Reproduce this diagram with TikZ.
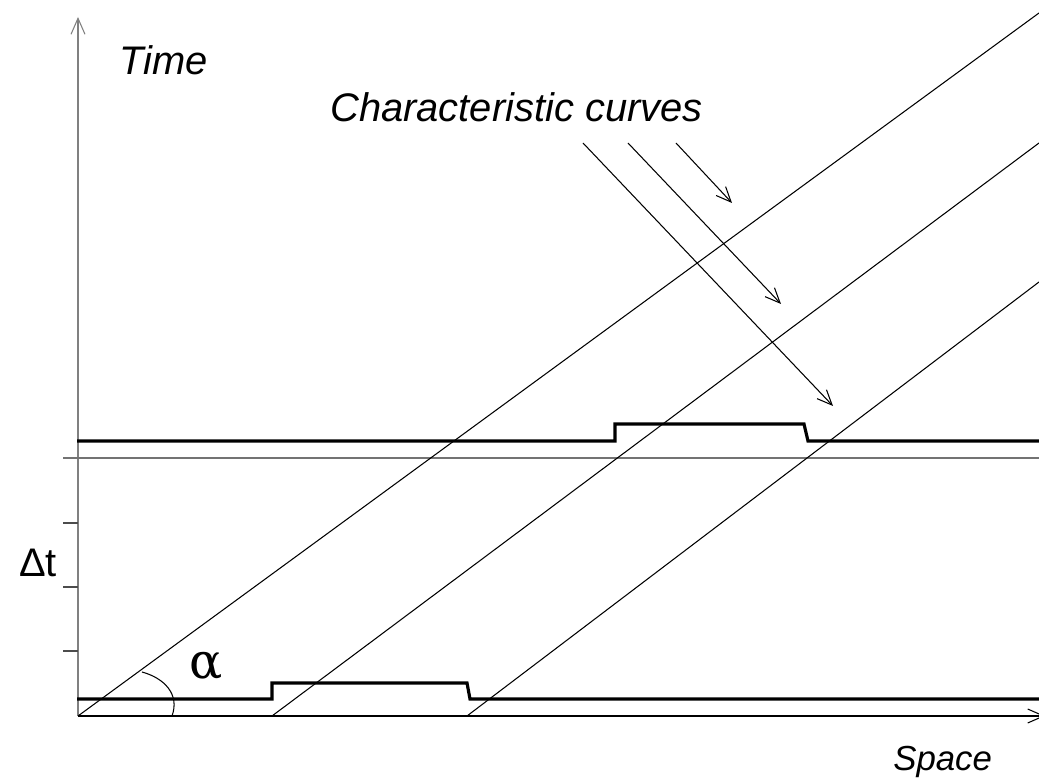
\documentclass[tikz,border=0pt]{standalone}
\usepackage{fontspec}
\setmainfont{Liberation Sans}
\newfontfamily\symgreek{DejaVu Serif}
\usetikzlibrary{arrows.meta}
\begin{document}
\begin{tikzpicture}[x=0.02cm,y=-0.02cm,
  thin line/.style={line width=0.6pt,black},
  thick line/.style={line width=1.8pt,black,line join=miter},
  axis/.style={line width=0.9pt,black!50},
  grayline/.style={line width=0.7pt,black!55},
  tick/.style={line width=0.7pt,black!70},
  barb/.style={-{Straight Barb[length=0.3cm,width=0.26cm,line width=0.6pt]}},
  lbl/.style={font=\fontsize{22.7pt}{27pt}\selectfont\itshape,inner sep=0pt},
  sym/.style={font=\fontsize{22.7pt}{27pt}\selectfont,inner sep=0pt}]
\useasboundingbox (0,0) rectangle (1039,783);
\clip (0,0) rectangle (1039,783);
% coordinates
\coordinate (O) at (78,716);
\coordinate (Ytop) at (78,17);
\coordinate (Xend) at (1045,716);
% axes
\draw[axis,-{Straight Barb[length=0.32cm,width=0.28cm,line width=0.6pt]}] (O) -- (Ytop);
\draw[thin line,-{Straight Barb[length=0.32cm,width=0.28cm,line width=0.6pt]}] (O) -- (Xend);
% ticks
\coordinate (t1) at (63,523); \coordinate (t1e) at (78,523);
\coordinate (t2) at (63,587); \coordinate (t2e) at (78,587);
\coordinate (t3) at (63,651); \coordinate (t3e) at (78,651);
\draw[tick] (t1) -- (t1e);
\draw[tick] (t2) -- (t2e);
\draw[tick] (t3) -- (t3e);
% thin gray horizontal
\coordinate (g1) at (63,458); \coordinate (g2) at (1039,458);
\draw[grayline] (g1) -- (g2);
% pulse lines
\coordinate (p1) at (77,699);
\coordinate (p2) at (1039,699);
\draw[thick line] (p1) -- (272,699) -- (272,683) -- (467,683) -- (470,699) -- (p2);
\coordinate (q1) at (77,441);
\coordinate (q2) at (1039,441);
\draw[thick line] (q1) -- (615,441) -- (615,424) -- (804,424) -- (808,441) -- (q2);
% characteristic lines
\coordinate (c1a) at (78,716); \coordinate (c1b) at (1039,13);
\coordinate (c2a) at (272,716); \coordinate (c2b) at (1039,143);
\coordinate (c3a) at (467,716); \coordinate (c3b) at (1039,282);
\draw[thin line] (c1a) -- (c1b);
\draw[thin line] (c2a) -- (c2b);
\draw[thin line] (c3a) -- (c3b);
% arrows
\coordinate (a1s) at (676,143); \coordinate (a1e) at (732,203);
\coordinate (a2s) at (628,143); \coordinate (a2e) at (781,304);
\coordinate (a3s) at (583,143); \coordinate (a3e) at (833,406);
\draw[thin line,barb] (a1s) -- (a1e);
\draw[thin line,barb] (a2s) -- (a2e);
\draw[thin line,barb] (a3s) -- (a3e);
% angle arc
\coordinate (arcS) at (142,672);
\coordinate (arcE) at (172,716);
\draw[thin line] (arcS) .. controls (164,678) and (180,694) .. (arcE);
% labels
\node[lbl,anchor=base west] (time) at (119,75) {Time};
\node[lbl,anchor=base west] (cc) at (330,122) {Characteristic curves};
\node[lbl,anchor=base west,font=\fontsize{19.8pt}{24pt}\selectfont\itshape] (space) at (893,771) {Space};
\node[sym,anchor=base west] (dt) at (19,577) {Δt};
\node[inner sep=0pt,anchor=base west,font=\fontsize{28pt}{32pt}\selectfont\symgreek] (alpha) at (189,679) {α};
\end{tikzpicture}
\end{document}
